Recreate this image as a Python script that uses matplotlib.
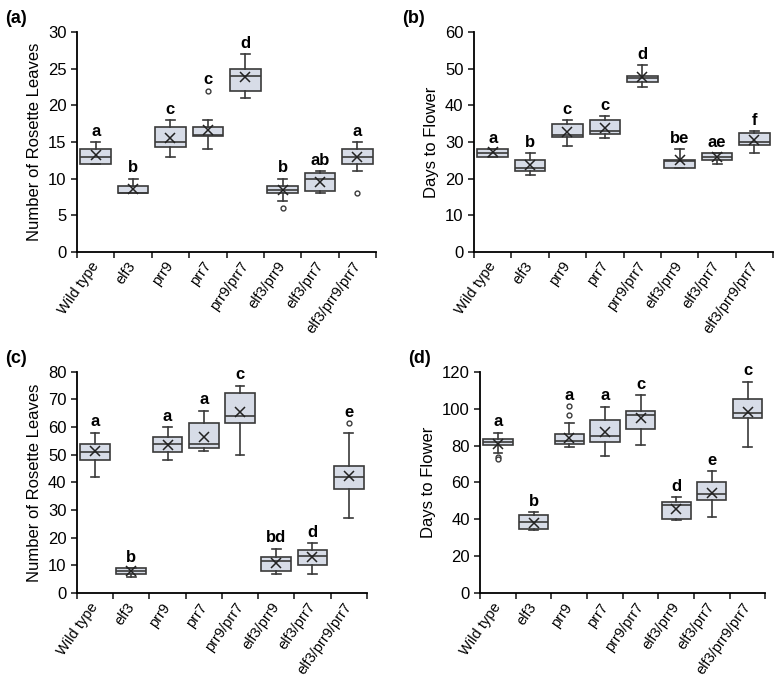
import matplotlib.pyplot as plt

plt.rcParams['font.family'] = ['Liberation Sans', 'DejaVu Sans']

genotypes = ['Wild type', 'elf3', 'prr9', 'prr7', 'prr9/prr7',
             'elf3/prr9', 'elf3/prr7', 'elf3/prr9/prr7']

# each panel: whisker low, q1, median, q3, whisker high, mean, outliers, letters
a_whislo = [12, 8, 13, 14, 21, 7, 8, 11]
a_q1 = [12, 8, 14.3, 15.8, 22, 8, 8.3, 12]
a_med = [13, 8, 15, 16, 24, 8.5, 10, 13]
a_q3 = [14, 9, 17, 17, 25, 9, 10.8, 14]
a_whishi = [15, 10, 18, 18, 27, 10, 11, 15]
a_mean = [13.2, 8.6, 15.6, 16.6, 23.9, 8.4, 9.6, 12.9]
a_fliers = [[], [], [], [22], [], [6], [], [8]]
a_letters = ['a', 'b', 'c', 'c', 'd', 'b', 'ab', 'a']

b_whislo = [26, 21, 29, 31, 45, 23, 24, 27]
b_q1 = [26, 22, 31.3, 32.2, 46.3, 23, 25, 29.3]
b_med = [27, 23, 32, 33, 47.5, 24.7, 26, 30]
b_q3 = [28, 25, 35, 36, 48, 25, 27, 32.4]
b_whishi = [28, 27, 36, 37, 51, 28, 27, 33]
b_mean = [27.2, 23.8, 32.8, 33.8, 47.6, 25, 26, 30.6]
b_fliers = [[], [], [], [], [], [], [], []]
b_letters = ['a', 'b', 'c', 'c', 'd', 'be', 'ae', 'f']

c_whislo = [42, 6, 48, 51.3, 50, 7, 7, 27]
c_q1 = [48, 7, 51, 52.3, 61.5, 8, 10, 37.5]
c_med = [51.2, 8, 54, 54, 64, 11.5, 13.5, 42]
c_q3 = [54, 9, 56.5, 61.5, 72.3, 13, 15.5, 46]
c_whishi = [58, 9, 60, 66, 75, 16, 18, 58]
c_mean = [51.5, 8, 53.6, 56.3, 65.3, 11, 13, 42.3]
c_fliers = [[], [], [], [], [], [], [], [61.5]]
c_letters = ['a', 'b', 'a', 'a', 'c', 'bd', 'd', 'e']

d_whislo = [76, 34.5, 79.3, 74.4, 80.2, 39.5, 41.3, 79.3]
d_q1 = [80.3, 35, 81.1, 82, 89.2, 40.4, 50.3, 94.7]
d_med = [82, 38.5, 82.4, 85.3, 96.5, 47.6, 53.6, 97.9]
d_q3 = [83.5, 42.5, 86.2, 93.8, 98.6, 49.4, 60.1, 105.5]
d_whishi = [87, 44, 92.3, 101, 107.3, 52.1, 66.1, 114.6]
d_mean = [81, 38, 84.3, 87.4, 94.7, 45.8, 54.5, 98.3]
d_fliers = [[74, 72.5], [], [101.4, 96.8], [], [], [], [], []]
d_letters = ['a', 'b', 'a', 'a', 'c', 'd', 'e', 'c']

BOX_FILL = '#d7dce7'
EDGE = '#3a3a3a'


def build_stats(whislo, q1, med, q3, whishi, mean, fliers):
    stats = []
    for i in range(len(med)):
        stats.append({
            'whislo': whislo[i], 'q1': q1[i], 'med': med[i], 'q3': q3[i],
            'whishi': whishi[i], 'mean': mean[i], 'fliers': fliers[i],
        })
    return stats


def draw_panel(fig, rect, tag, ylabel, ymax, ystep, stats, letters):
    ax = fig.add_axes(rect)
    n = len(stats)
    pos = list(range(n))
    ax.bxp(stats, positions=pos, widths=0.82, capwidths=0.24,
           showmeans=True, patch_artist=True,
           boxprops=dict(facecolor=BOX_FILL, edgecolor=EDGE, linewidth=1.2),
           medianprops=dict(color=EDGE, linewidth=1.2),
           whiskerprops=dict(color=EDGE, linewidth=1.2),
           capprops=dict(color=EDGE, linewidth=1.2),
           meanprops=dict(marker='x', markeredgecolor='#222222',
                          markersize=7, markeredgewidth=1.1),
           flierprops=dict(marker='o', markerfacecolor='white',
                           markeredgecolor=EDGE, markersize=3.5,
                           markeredgewidth=1.0))
    for i, s in enumerate(stats):
        top = max([s['whishi']] + list(s['fliers']))
        ax.annotate(letters[i], (i, top), xytext=(0, 2.5),
                    textcoords='offset points', ha='center', va='bottom',
                    fontsize=12, fontweight='bold')
    ax.set_xlim(-0.5, n - 0.5)
    ax.set_ylim(0, ymax)
    ax.set_yticks(range(0, ymax + 1, ystep))
    ax.set_xticks([i - 0.5 for i in range(n + 1)], minor=False)
    ax.set_xticklabels([])
    ax.set_xticks(pos, minor=True)
    ax.set_xticklabels(genotypes, minor=True, rotation=55,
                       rotation_mode='anchor', ha='right', va='center',
                       fontsize=10.5)
    ax.tick_params(axis='x', which='minor', length=0, pad=8)
    ax.tick_params(axis='x', which='major', length=4, width=1.2,
                   direction='out', color='#222222')
    ax.tick_params(axis='y', length=4, width=1.2, direction='out',
                   labelsize=12, color='#222222')
    ax.spines['top'].set_visible(False)
    ax.spines['right'].set_visible(False)
    ax.spines['left'].set_linewidth(1.3)
    ax.spines['bottom'].set_linewidth(1.3)
    ax.set_ylabel(ylabel, fontsize=12)
    fig.text(rect[0] - 0.093, rect[1] + rect[3] + 0.02, tag,
             fontsize=13, fontweight='bold', va='center')
    return ax


fig = plt.figure(figsize=(7.77, 6.81), dpi=100)

stats_a = build_stats(a_whislo, a_q1, a_med, a_q3, a_whishi, a_mean, a_fliers)
stats_b = build_stats(b_whislo, b_q1, b_med, b_q3, b_whishi, b_mean, b_fliers)
stats_c = build_stats(c_whislo, c_q1, c_med, c_q3, c_whishi, c_mean, c_fliers)
stats_d = build_stats(d_whislo, d_q1, d_med, d_q3, d_whishi, d_mean, d_fliers)

draw_panel(fig, [0.0991, 0.630, 0.385, 0.323], '(a)',
           'Number of Rosette Leaves', 30, 5, stats_a, a_letters)
draw_panel(fig, [0.610, 0.630, 0.385, 0.323], '(b)',
           'Days to Flower', 60, 10, stats_b, b_letters)
draw_panel(fig, [0.0991, 0.129, 0.373, 0.325], '(c)',
           'Number of Rosette Leaves', 80, 10, stats_c, c_letters)
draw_panel(fig, [0.618, 0.129, 0.367, 0.325], '(d)',
           'Days to Flower', 120, 20, stats_d, d_letters)

fig.savefig('out.png', dpi=100)
